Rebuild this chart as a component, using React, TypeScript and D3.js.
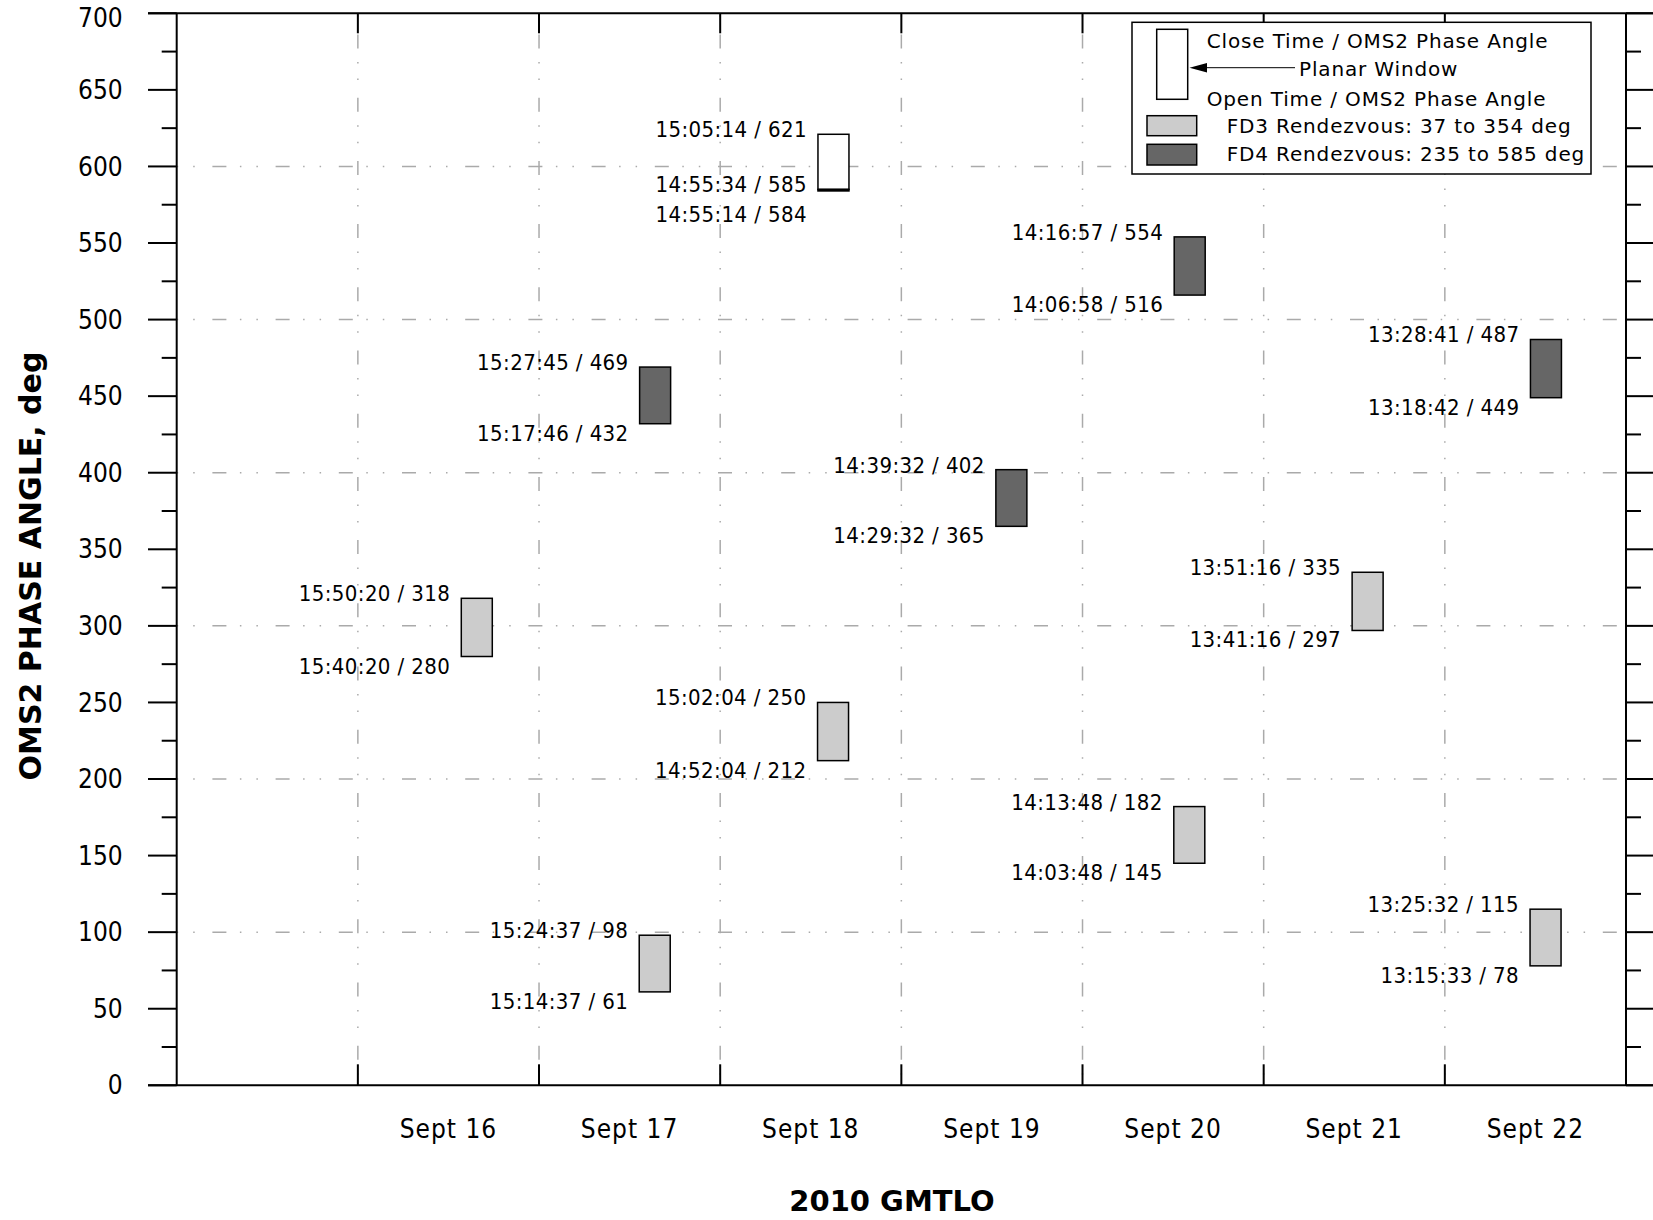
import React from "react";
import * as d3 from "d3";

// rendezvous windows: day of Sept 2010, open/close GMT and OMS2 phase angle (deg)
const fd3Windows = [
  { day: 16, open: "15:40:20", openDeg: 280, close: "15:50:20", closeDeg: 318 },
  { day: 17, open: "15:14:37", openDeg: 61, close: "15:24:37", closeDeg: 98 },
  { day: 18, open: "14:52:04", openDeg: 212, close: "15:02:04", closeDeg: 250 },
  { day: 20, open: "14:03:48", openDeg: 145, close: "14:13:48", closeDeg: 182 },
  { day: 21, open: "13:41:16", openDeg: 297, close: "13:51:16", closeDeg: 335 },
  { day: 22, open: "13:15:33", openDeg: 78, close: "13:25:32", closeDeg: 115 },
];

const fd4Windows = [
  { day: 17, open: "15:17:46", openDeg: 432, close: "15:27:45", closeDeg: 469 },
  { day: 19, open: "14:29:32", openDeg: 365, close: "14:39:32", closeDeg: 402 },
  { day: 20, open: "14:06:58", openDeg: 516, close: "14:16:57", closeDeg: 554 },
  { day: 22, open: "13:18:42", openDeg: 449, close: "13:28:41", closeDeg: 487 },
];

const planarWindows = [
  { day: 18, open: "14:55:34", openDeg: 585, close: "15:05:14", closeDeg: 621 },
];
const planarEarliest = [{ day: 18, time: "14:55:14", deg: 584 }];

const dayLabels = ["Sept 16", "Sept 17", "Sept 18", "Sept 19", "Sept 20", "Sept 21", "Sept 22"];
const legendLines = [
  "Close Time / OMS2 Phase Angle",
  "Planar Window",
  "Open Time / OMS2 Phase Angle",
  "FD3 Rendezvous: 37 to 354 deg",
  "FD4 Rendezvous: 235 to 585 deg",
];

const W = 1653;
const H = 1220;
const left = 176.7;
const right = 1626;
const top = 13.3;
const bottom = 1085.3;
const barW = 31;

const font = "'DejaVu Sans Condensed', 'DejaVu Sans', sans-serif";
const legendFont = "'DejaVu Sans', sans-serif";
const gridDash = "14 13.5 1.5 15 1.5 17.7";

const toDate = (day: number, t: string) => {
  const [h, m, s] = t.split(":").map(Number);
  return new Date(Date.UTC(2010, 8, day, h, m, s));
};

export default function App() {
  const x = d3
    .scaleUtc()
    .domain([new Date(Date.UTC(2010, 8, 15)), new Date(Date.UTC(2010, 8, 23))])
    .range([left, right]);
  const y = d3.scaleLinear().domain([0, 700]).range([bottom, top]);

  const dayStarts = d3.utcDay.range(new Date(Date.UTC(2010, 8, 16)), new Date(Date.UTC(2010, 8, 23)));
  const majors = y.ticks(14);
  const minors = d3.range(25, 700, 50);
  const hGrid = y.ticks(7).filter((v) => v > 0 && v < 700);

  const centerX = (w: { day: number; open: string; close: string }) => {
    const a = toDate(w.day, w.open).getTime();
    const b = toDate(w.day, w.close).getTime();
    return x(new Date((a + b) / 2));
  };

  const labelProps = { textAnchor: "end" as const, fontSize: 22, letterSpacing: 0.4, fontFamily: font };

  const drawWindow = (w: any, fill: string, key: string, planar = false) => {
    const cx = centerX(w);
    const y0 = y(w.closeDeg);
    const y1 = y(w.openDeg);
    const lx = cx - barW / 2 - 11;
    return (
      <g key={key}>
        <rect x={cx - barW / 2} y={y0} width={barW} height={y1 - y0} fill={fill} stroke="#000" strokeWidth={1.5} />
        <text x={lx} y={y0 + 3} {...labelProps}>
          {`${w.close} / ${w.closeDeg}`}
        </text>
        <text x={lx} y={planar ? y1 + 2.5 : y1 + 17} {...labelProps}>
          {`${w.open} / ${w.openDeg}`}
        </text>
      </g>
    );
  };

  return (
    <svg width={W} height={H} style={{ position: "absolute", left: 0, top: 0, background: "#fff" }}>
      {/* grid */}
      <g stroke="#aaa" strokeWidth={1.5} strokeDasharray={gridDash} fill="none">
        {hGrid.map((v) => (
          <line key={"h" + v} x1={left} x2={right} y1={y(v)} y2={y(v)} strokeDashoffset={27.5} />
        ))}
        {dayStarts.map((d, i) => (
          <line key={"v" + i} x1={x(d)} x2={x(d)} y1={top} y2={bottom} strokeDashoffset={42} />
        ))}
      </g>

      {/* frame and ticks */}
      <g stroke="#000" strokeWidth={2}>
        <line x1={148} x2={W} y1={top} y2={top} />
        <line x1={148} x2={W} y1={bottom} y2={bottom} />
        <line x1={left} x2={left} y1={top} y2={bottom} />
        <line x1={right} x2={right} y1={top} y2={bottom} />
        {majors.map((v) => (
          <g key={"M" + v}>
            <line x1={148} x2={left} y1={y(v)} y2={y(v)} />
            <line x1={right} x2={W} y1={y(v)} y2={y(v)} />
          </g>
        ))}
        {minors.map((v) => (
          <g key={"m" + v}>
            <line x1={left - 15} x2={left} y1={y(v)} y2={y(v)} />
            <line x1={right} x2={right + 15} y1={y(v)} y2={y(v)} />
          </g>
        ))}
        {dayStarts.map((d, i) => (
          <g key={"t" + i}>
            <line x1={x(d)} x2={x(d)} y1={top} y2={top + 20} />
            <line x1={x(d)} x2={x(d)} y1={bottom} y2={bottom - 21} />
          </g>
        ))}
      </g>

      {/* y tick labels */}
      {majors.map((v) => (
        <text key={"yl" + v} x={122.7} y={Math.max(y(v), 18)} dy="0.35em" textAnchor="end" fontSize={26} fontFamily={font}>
          {v}
        </text>
      ))}

      {/* x tick labels */}
      {dayStarts.map((d, i) => (
        <text key={"xl" + i} x={x(d3.utcHour.offset(d, 12))} y={1138} textAnchor="middle" fontSize={26} letterSpacing={1} fontFamily={font}>
          {dayLabels[i]}
        </text>
      ))}

      {/* titles */}
      <text x={892} y={1211} textAnchor="middle" fontSize={29} fontWeight="bold" fontFamily={legendFont}>
        2010 GMTLO
      </text>
      <text transform="translate(41,566) rotate(-90)" textAnchor="middle" fontSize={30} fontWeight="bold" fontFamily={legendFont}>
        OMS2 PHASE ANGLE, deg
      </text>

      {/* windows */}
      {fd3Windows.map((w, i) => drawWindow(w, "#cccccc", "fd3" + i))}
      {fd4Windows.map((w, i) => drawWindow(w, "#666666", "fd4" + i))}
      {planarWindows.map((w, i) => drawWindow(w, "#ffffff", "pl" + i, true))}
      {planarEarliest.map((p, i) => {
        const pw = planarWindows[i];
        const mid = centerX(pw);
        return (
          <g key={"pe" + i}>
            <rect x={mid - barW / 2} y={y(pw.openDeg)} width={barW} height={y(p.deg) - y(pw.openDeg)} fill="#000" stroke="#000" strokeWidth={1.5} />
            <text x={mid - barW / 2 - 11} y={y(p.deg) + 31} {...labelProps}>
              {`${p.time} / ${p.deg}`}
            </text>
          </g>
        );
      })}

      {/* legend */}
      <g fontFamily={legendFont} fontSize={20} letterSpacing={0.85}>
        <rect x={1132} y={22.3} width={459} height={151.7} fill="#fff" stroke="#000" strokeWidth={1.5} />
        <rect x={1156.7} y={29.3} width={31} height={70} fill="#fff" stroke="#000" strokeWidth={1.5} />
        <line x1={1205} x2={1295} y1={67.7} y2={67.7} stroke="#000" strokeWidth={1} />
        <polygon points="1189.5,67.7 1207,63 1207,72.4" fill="#000" />
        <rect x={1147} y={115.7} width={49.7} height={20} fill="#cccccc" stroke="#000" strokeWidth={1.5} />
        <rect x={1147} y={144.3} width={49.7} height={20.7} fill="#666666" stroke="#000" strokeWidth={1.5} />
        <text x={1206.7} y={48}>{legendLines[0]}</text>
        <text x={1299} y={76}>{legendLines[1]}</text>
        <text x={1206.7} y={106}>{legendLines[2]}</text>
        <text x={1226.7} y={133}>{legendLines[3]}</text>
        <text x={1226.7} y={161}>{legendLines[4]}</text>
      </g>
    </svg>
  );
}
